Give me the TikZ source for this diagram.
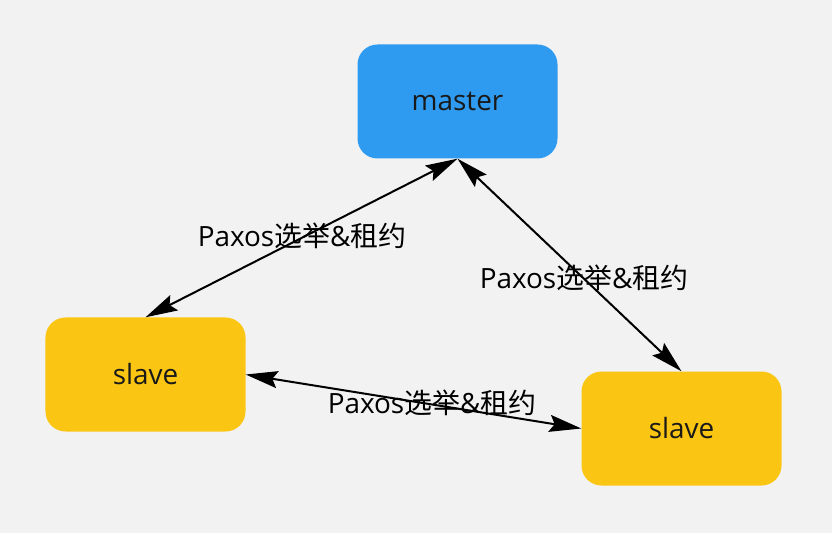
\documentclass[tikz,border=0pt]{standalone}
\usepackage{fontspec}
\setmainfont{Open Sans}
\newfontfamily\cjk{Noto Sans CJK SC}
\usetikzlibrary{arrows.meta}
\definecolor{bgc}{HTML}{F2F2F2}
\definecolor{masterc}{HTML}{2F9BF0}
\definecolor{slavec}{HTML}{FAC613}
\tikzset{
  box/.style={rounded corners=20bp, minimum width=200bp, minimum height=114bp, inner sep=0pt, font=\fontsize{28}{32}\selectfont, text=black!90},
  link/.style={line width=2bp, {Stealth[length=32bp,width=17bp,inset=5bp]}-{Stealth[length=32bp,width=17bp,inset=5bp]}},
  lbl/.style={font=\fontsize{28}{32}\selectfont, text=black, inner sep=0pt}
}
\newcommand{\paxlabel}{Paxos{\cjk 选举}\&{\cjk 租约}}
\begin{document}
\begin{tikzpicture}[x=1bp,y=-1bp]
\fill[bgc] (0,0) rectangle (832,533);
\useasboundingbox (0,0) rectangle (832,533);
\node[box, fill=masterc] (m) at (457.5,101.5) {master};
\node[box, fill=slavec] (s1) at (145.5,374.5) {slave};
\node[box, fill=slavec] (s2) at (681.5,428.5) {slave};
\draw[link] (s1.north) -- (m.south);
\draw[link] (m.south) -- (s2.north);
\draw[link] (s1.east) -- (s2.west);
\node[lbl] (l1) at (302,236) {\paxlabel};
\node[lbl] (l2) at (584,278) {\paxlabel};
\node[lbl] (l3) at (432,403) {\paxlabel};
\end{tikzpicture}
\end{document}
